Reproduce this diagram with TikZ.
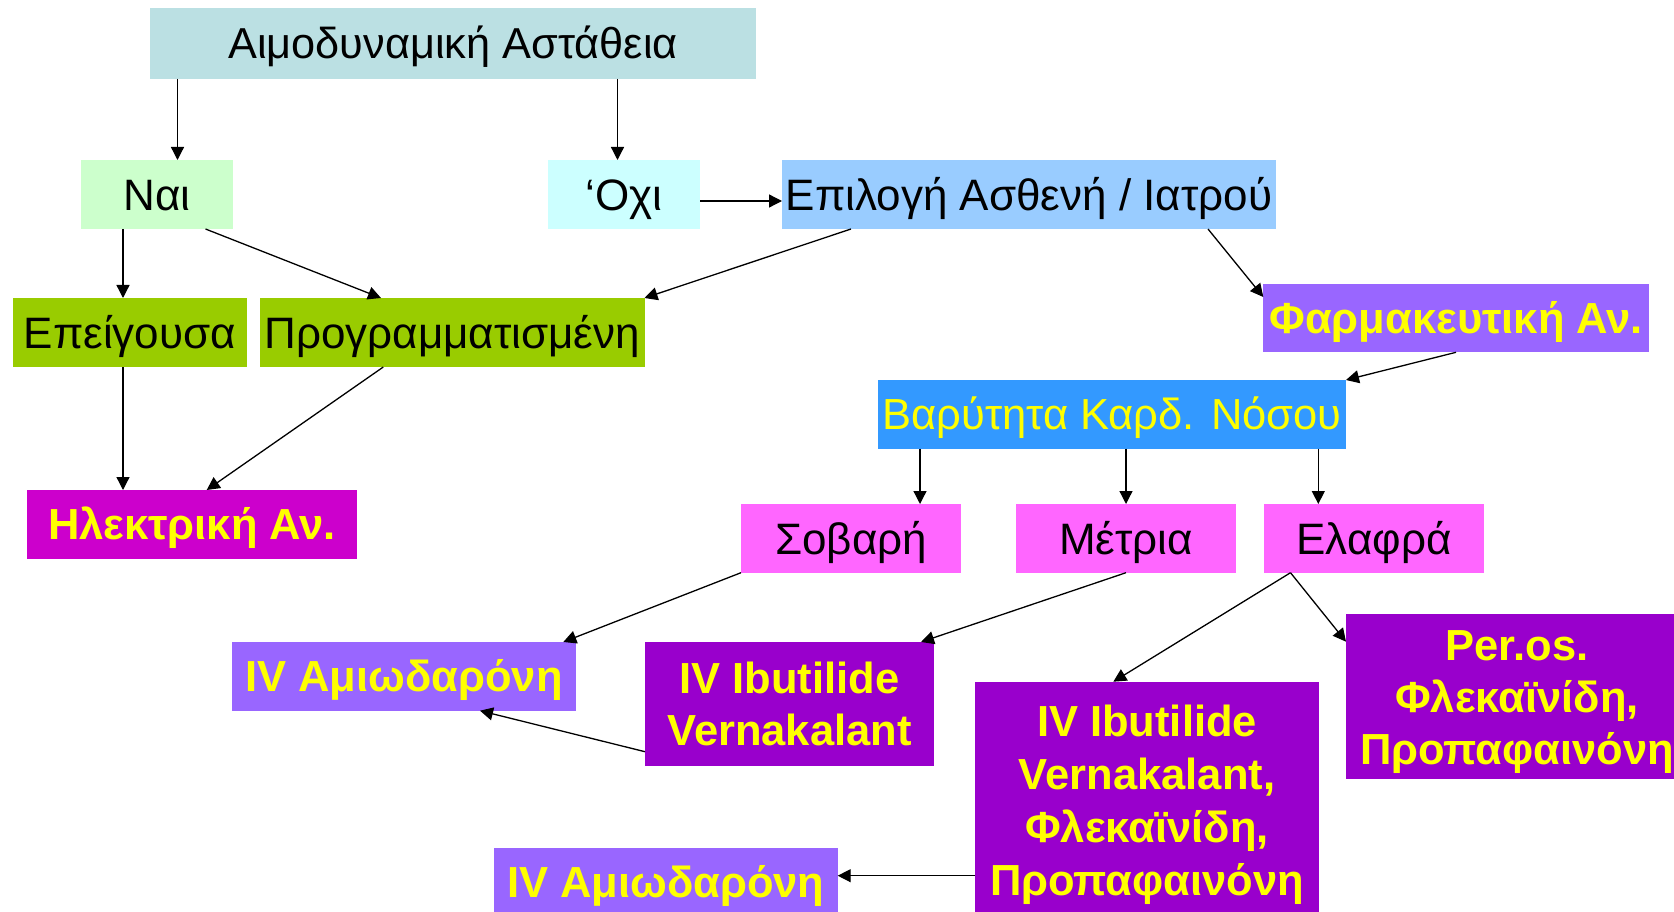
\documentclass[tikz,border=0pt]{standalone}
\usepackage{fontspec}
\setmainfont{Liberation Sans}
\usetikzlibrary{arrows.meta,calc}

\definecolor{cTop}{HTML}{BBE0E3}
\definecolor{cYes}{HTML}{CCFFCC}
\definecolor{cNo}{HTML}{CCFFFF}
\definecolor{cChoice}{HTML}{99CCFF}
\definecolor{cGreen}{HTML}{99CC00}
\definecolor{cMagenta}{HTML}{CC00CC}
\definecolor{cLilac}{HTML}{9966FF}
\definecolor{cBlue}{HTML}{3399FF}
\definecolor{cPink}{HTML}{FF66FF}
\definecolor{cPurple}{HTML}{9900CC}
\definecolor{cYellow}{HTML}{FFFF00}

\begin{document}
\begin{tikzpicture}[x=1pt,y=-1pt,
  box/.style={rectangle, inner sep=0pt, outer sep=0pt, draw=none},
  sz/.style 2 args={minimum width=#1pt, minimum height=#2pt},
  toptxt/.style={font=\fontsize{43.3}{52}\selectfont, text height=30pt, text depth=0pt, text=black},
  plain/.style={font=\fontsize{44}{53}\selectfont, text height=31.5pt, text depth=0pt, text=black},
  yelplain/.style={font=\fontsize{43.5}{53}\selectfont, text height=31.1pt, text depth=0pt, text=cYellow},
  boldtxt/.style={font=\bfseries\fontsize{43.5}{52}\selectfont, text height=31.1pt, text depth=0pt, text=cYellow},
  conn/.style={line width=1.3pt, -{Triangle[length=13pt,width=13pt]}}
]
\fill[white] (0,0) rectangle (1674,912);
\clip (0,0) rectangle (1674,912);

% boxes
\node[box, fill=cTop, sz={606}{71}, toptxt] (T) at (453,43.5) {Αιμοδυναμική Αστάθεια};
\node[box, fill=cYes, sz={152}{69}, plain] (Nai) at (157,194.5) {Ναι};
\node[box, fill=cNo, sz={152}{69}, plain] (Oxi) at (624,194.5) {‘Οχι};
\node[box, fill=cChoice, sz={494}{69}, plain] (Epi) at (1029,194.5) {Επιλογή Ασθενή / Ιατρού};
\node[box, fill=cGreen, sz={234}{69}, plain] (Urg) at (130,332.5) {Επείγουσα};
\node[box, fill=cGreen, sz={384.5}{69}, plain] (Plan) at (452.25,332.5) {Προγραμματισμένη};
\node[box, fill=cMagenta, sz={330}{68.7}, boldtxt] (Elec) at (192,524.35) {Ηλεκτρική Αν.};
\node[box, fill=cLilac, sz={385.7}{68.3}, boldtxt] (Pharm) at (1456.15,318.15) {Φαρμακευτική Αν.};
\node[box, fill=cBlue, sz={468}{68.7}, yelplain] (Sev) at (1112,414.35) {Βαρύτητα Καρδ. Νόσου};
\node[box, fill=cPink, sz={220}{68.7}, plain] (Hard) at (851,538.35) {Σοβαρή};
\node[box, fill=cPink, sz={220}{68.7}, plain] (Mid) at (1126,538.35) {Μέτρια};
\node[box, fill=cPink, sz={220}{68.7}, plain] (Mild) at (1374,538.35) {Ελαφρά};
\node[box, fill=cLilac, sz={344}{68.7}, boldtxt] (AmA) at (404,676.35) {IV Αμιωδαρόνη};
\node[box, fill=cPurple, sz={289}{123.7}, boldtxt, text depth=52pt] (IbV) at (789.5,703.85)
  {\begin{tabular}[t]{@{}c@{}}IV Ibutilide\\Vernakalant\end{tabular}};
\node[box, fill=cPurple, sz={344}{238.3}, boldtxt, font=\bfseries\fontsize{43.5}{53}\selectfont, text depth=159pt] (Big) at (1147,800.85)
  {\begin{tabular}[t]{@{}c@{}}IV Ibutilide\\Vernakalant,\\Φλεκαϊνίδη,\\Προπαφαινόνη\end{tabular}};
\node[box, fill=cPurple, sz={342}{165.3}, boldtxt, text depth=104pt] (Oral) at (1517,696.65)
  {\begin{tabular}[t]{@{}c@{}}Per.os.\\Φλεκαϊνίδη,\\Προπαφαινόνη\end{tabular}};
\node[box, fill=cLilac, sz={343.7}{68.7}, boldtxt] (AmB) at (665.85,882.35) {IV Αμιωδαρόνη};

% connectors
\draw[conn] ($(T.south west)+(27.5,0)$) -- ($(Nai.north west)+(96.5,0)$);
\draw[conn] ($(T.south west)+(467.5,0)$) -- ($(Oxi.north west)+(69.5,0)$);
\draw[conn] ($(Oxi.south east)+(0,-28)$) -- ($(Epi.south west)+(0,-28)$);
\draw[conn] ($(Nai.south west)+(42,0)$) -- ($(Urg.north west)+(110,0)$);
\draw[conn] ($(Nai.south west)+(124.5,0)$) -- ($(Plan.north west)+(121,0)$);
\draw[conn] ($(Epi.south west)+(69,0)$) -- (Plan.north east);
\draw[conn] ($(Epi.south west)+(426,0)$) -- ($(Pharm.north west)+(0,13)$);
\draw[conn] ($(Pharm.south west)+(192.7,0)$) -- (Sev.north east);
\draw[conn] ($(Sev.south west)+(42,0)$) -- ($(Hard.north west)+(179,0)$);
\draw[conn] ($(Sev.south west)+(248,0)$) -- (Mid.north);
\draw[conn] ($(Sev.south west)+(440.3,0)$) -- ($(Mild.north west)+(54.3,0)$);
\draw[conn] ($(Urg.south west)+(110,0)$) -- ($(Elec.north west)+(96,0)$);
\draw[conn] ($(Plan.south west)+(123.3,0)$) -- ($(Elec.north west)+(179.7,0)$);
\draw[conn] (Hard.south west) -- ($(AmA.north west)+(331.3,0)$);
\draw[conn] (Mid.south) -- ($(IbV.north east)+(-13,0)$);
\draw[conn] ($(Mild.south west)+(26.5,0)$) -- ($(Big.north west)+(138.3,0)$);
\draw[conn] ($(Mild.south west)+(26.5,0)$) -- ($(Oral.north west)+(0,27.7)$);
\draw[conn] ($(IbV.south west)+(0,-14)$) -- ($(AmA.south west)+(248,0)$);
\draw[conn] ($(Big.north west)+(0,194)$) -- ($(AmB.north east)+(0,27.7)$);
\end{tikzpicture}
\end{document}
